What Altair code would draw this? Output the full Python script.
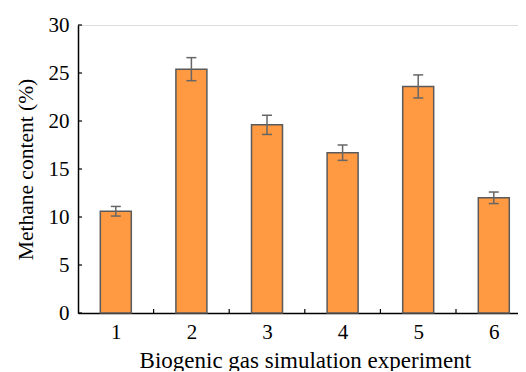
import altair as alt
import pandas as pd

experiments = [1, 2, 3, 4, 5, 6]
methane = [10.6, 25.4, 19.6, 16.7, 23.6, 12.0]
errors = [0.5, 1.2, 1.0, 0.8, 1.2, 0.6]
y_ticks = [0, 5, 10, 15, 20, 25, 30]

W, H = 440, 288
STEP = 75.6  # pixels per experiment slot
FONT = "Liberation Serif"

df = pd.DataFrame({"exp": experiments, "val": methane, "err": errors})
bounds = pd.DataFrame({"b": [e + 0.5 for e in experiments[:-1]]})
yt = pd.DataFrame({"t": y_ticks})

xscale = alt.Scale(domain=[0.5, 0.5 + W / STEP], nice=False, zero=False, padding=0)
yscale = alt.Scale(domain=[0, 30], nice=False, padding=0)

xaxis = alt.Axis(values=experiments, format="d", ticks=False, grid=False, labelFontSize=21,
                 labelPadding=8, labelColor="black", labelFont=FONT,
                 domainColor="black", domainWidth=1.5,
                 title="Biogenic gas simulation experiment", titleFont=FONT,
                 titleFontSize=23, titleFontWeight="normal", titleColor="black",
                 titleX=(6 * STEP) / 2, titleY=54, titleBaseline="alphabetic",
                 titleAlign="center")
yaxis = alt.Axis(values=y_ticks, format="d", ticks=False, grid=False, labelFontSize=21,
                 labelPadding=9, labelColor="black", labelFont=FONT,
                 domainColor="black", domainWidth=1.5,
                 title="Methane content (%)", titleFont=FONT, titleFontSize=21.5,
                 titleFontWeight="normal", titleColor="black", titleAngle=-90,
                 titleX=-46, titleY=H / 2, titleBaseline="alphabetic",
                 titleAlign="center")

base = alt.Chart(df)

bars = base.mark_bar(size=31, fill="#FF9A42", stroke="#5a5a5a", strokeWidth=1.5).encode(
    x=alt.X("exp:Q", scale=xscale, axis=xaxis),
    y=alt.Y("val:Q", scale=yscale, axis=yaxis),
)

err = base.transform_calculate(
    lo="datum.val - datum.err", hi="datum.val + datum.err"
).mark_rule(color="#666666", strokeWidth=1.5).encode(
    x="exp:Q", y="lo:Q", y2="hi:Q"
)

caps = base.transform_calculate(
    lo="datum.val - datum.err", hi="datum.val + datum.err",
    cl="datum.exp - 0.066", cr="datum.exp + 0.066"
).transform_fold(["lo", "hi"]).mark_rule(color="#666666", strokeWidth=1.5).encode(
    x="cl:Q", x2="cr:Q", y="value:Q"
)

xticks = alt.Chart(bounds).mark_rule(color="black", strokeWidth=1.2).encode(
    x="b:Q", y=alt.value(H), y2=alt.value(H - 4)
)
yticks = alt.Chart(yt).mark_rule(color="black", strokeWidth=1.2).encode(
    y="t:Q", x=alt.value(0), x2=alt.value(4)
)

chart = alt.layer(bars, err, caps, xticks, yticks).properties(
    width=W, height=H,
    autosize=alt.AutoSizeParams(type="none"),
    padding={"left": 70, "top": 17, "right": 0, "bottom": 58},
).configure_view(stroke=None).configure(font=FONT)

chart.save("out.html", embed_options={"renderer": "svg", "actions": False})
